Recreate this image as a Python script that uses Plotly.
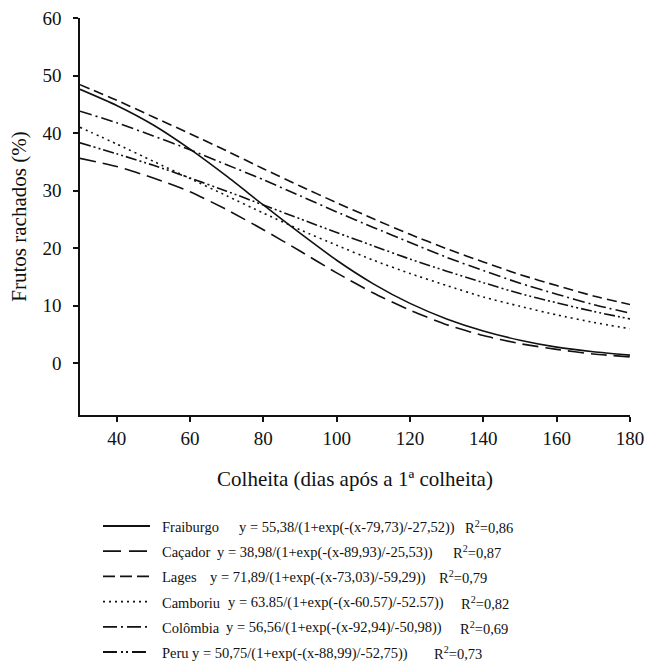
import plotly.graph_objects as go

# ---- data ----
days = [30, 40, 50, 60, 70, 80, 90, 100, 110, 120, 130, 140, 150, 160, 170, 180]

fraiburgo = [47.6, 44.8, 41.4, 37.2, 32.5, 27.5, 22.6, 17.9, 13.8, 10.4, 7.7, 5.6, 4.0, 2.8, 2.0, 1.4]
cacador   = [35.6, 34.2, 32.2, 29.8, 26.7, 23.2, 19.5, 15.7, 12.2, 9.2, 6.7, 4.8, 3.4, 2.4, 1.6, 1.1]
lages     = [48.4, 45.7, 42.8, 39.9, 36.9, 33.8, 30.8, 27.9, 25.1, 22.4, 19.9, 17.6, 15.4, 13.5, 11.7, 10.2]
camboriu  = [41.0, 38.1, 35.1, 32.1, 29.1, 26.1, 23.2, 20.5, 17.9, 15.6, 13.5, 11.5, 9.9, 8.4, 7.1, 6.0]
colombia  = [43.8, 41.8, 39.5, 37.1, 34.5, 31.9, 29.1, 26.3, 23.6, 21.0, 18.4, 16.1, 13.9, 12.0, 10.2, 8.7]
peru      = [38.3, 36.4, 34.4, 32.2, 29.9, 27.5, 25.1, 22.7, 20.4, 18.1, 16.0, 14.0, 12.1, 10.5, 9.0, 7.7]

names = ["Fraiburgo", "Caçador", "Lages", "Camboriu", "Colômbia", "Peru"]
series = [fraiburgo, cacador, lages, camboriu, colombia, peru]
equations = [
    "y = 55,38/(1+exp(-(x-79,73)/-27,52))",
    "y = 38,98/(1+exp(-(x-89,93)/-25,53))",
    "y = 71,89/(1+exp(-(x-73,03)/-59,29))",
    "y = 63.85/(1+exp(-(x-60.57)/-52.57))",
    "y = 56,56/(1+exp(-(x-92,94)/-50,98))",
    "y = 50,75/(1+exp(-(x-88,99)/-52,75))",
]
r2 = ["0,86", "0,87", "0,79", "0,82", "0,69", "0,73"]

x_ticks = [40, 60, 80, 100, 120, 140, 160, 180]
y_ticks = [0, 10, 20, 30, 40, 50, 60]

# ---- styles ----
plot_dash = ["solid", "16px,7px", "10px,5px", "2px,4px", "12px,4px,2px,4px", "11px,3px,2px,3px,2px,3px"]
legend_dash = ["solid", "18px,8px", "12px,5px", "2px,4px", "14px,4px,2px,4px", "14px,4px,2px,3px,2px,4px"]
FONT = "Liberation Serif"
INK = "#111111"

W, H = 647, 662
L, R, T, B = 80, 17, 18, 247
PW, PH = W - L - R, H - T - B

def px(xp):
    return (xp - L) / PW

def py(yp):
    return (H - B - yp) / PH

fig = go.Figure()
for name, ys, d in zip(names, series, plot_dash):
    fig.add_trace(go.Scatter(
        x=days, y=ys, name=name, mode="lines",
        line=dict(color=INK, width=1.6, dash=d, shape="spline", smoothing=0.6),
        showlegend=False,
    ))

# manual legend (lines + text) below the chart
row_y = [527 + 25.2 * i for i in range(6)]
eq_x = [237, 215, 208, 226, 224, 190]
r2_x = [463, 451, 437, 459, 458, 432]
for i in range(6):
    yy = py(row_y[i] - 1)
    fig.add_shape(type="line", xref="paper", yref="paper",
                  x0=px(103), x1=px(150), y0=yy, y1=yy,
                  line=dict(color=INK, width=1.8, dash=legend_dash[i]))
    for txt, xx in ((names[i], 160), (equations[i], eq_x[i]), ("R<sup>2</sup>=" + r2[i], r2_x[i])):
        fig.add_annotation(text=txt, xref="paper", yref="paper", x=px(xx), y=py(row_y[i]),
                           xanchor="left", yanchor="middle", showarrow=False,
                           font=dict(family=FONT, size=14.5, color=INK))

fig.update_layout(
    width=W, height=H,
    margin=dict(l=L, r=R, t=T, b=B, pad=0),
    paper_bgcolor="white", plot_bgcolor="white",
    xaxis=dict(
        range=[30, 180], tickvals=x_ticks, ticktext=[str(v) for v in x_ticks],
        showline=True, linecolor=INK, linewidth=1.5, showgrid=False, zeroline=False,
        ticks="outside", ticklen=5, tickwidth=1.5, tickcolor=INK, automargin=False,
        tickfont=dict(family=FONT, size=19, color=INK),
        title=dict(text="Colheita (dias após a 1ª colheita)", font=dict(family=FONT, size=21, color=INK), standoff=24),
    ),
    yaxis=dict(
        range=[-9, 60], tickvals=y_ticks, ticktext=[str(v) for v in y_ticks],
        showline=True, linecolor=INK, linewidth=1.5, showgrid=False, zeroline=False,
        ticks="outside", ticklen=5, tickwidth=1.5, tickcolor=INK, automargin=False,
        tickfont=dict(family=FONT, size=19, color=INK), ticklabelstandoff=8,
        title=dict(text="Frutos rachados (%)", font=dict(family=FONT, size=21, color=INK), standoff=10),
    ),
)

fig.write_html("out.html")
